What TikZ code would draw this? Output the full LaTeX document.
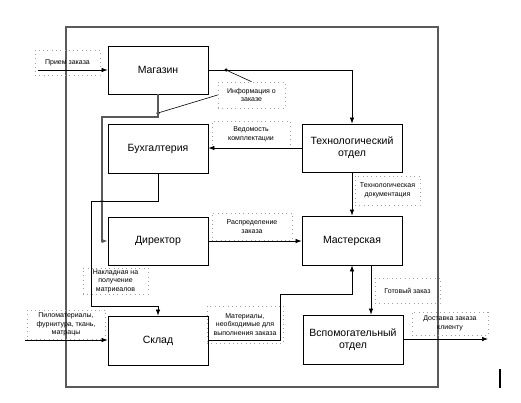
\documentclass[tikz,border=0pt]{standalone}
\usepackage{fontspec}
\setmainfont{Liberation Sans}
\usetikzlibrary{arrows.meta, positioning, calc}
\definecolor{framegray}{RGB}{90, 90, 90}
\definecolor{dotgray}{RGB}{160, 160, 160}

\begin{document}
\begin{tikzpicture}[x=1pt, y=-1pt,
    block/.style={draw, line width=0.8pt, minimum width=100pt, minimum height=48pt,
                  inner sep=2pt, align=center, font=\fontsize{10.5}{12}\selectfont},
    lbl/.style={draw=dotgray, dash pattern=on 0.8pt off 3.5pt, line width=0.7pt, inner sep=1pt,
                align=center, font=\fontsize{7}{8.5}\selectfont},
    arr/.style={-{Latex[length=6pt, width=4.5pt]}, line width=0.7pt},
    jdot/.style={circle, fill, inner sep=0pt, minimum size=3.5pt}]
    \useasboundingbox (0,0) rectangle (521,402);

    % outer frame
    \draw[framegray, line width=1.3pt] (66,27) rectangle (438,387);

    % blocks
    \node[block] (magazin) at (158,70) {Магазин};
    \node[block, minimum height=49pt] (buh) at (158,148.5) {Бухгалтерия};
    \node[block] (dir) at (158,241) {Директор};
    \node[block, minimum height=49pt] (sklad) at (158,340.5) {Склад};
    \node[block] (tech) at (352,148) {Технологический\\отдел};
    \node[block, minimum height=49pt] (master) at (352,240.5) {Мастерская};
    \node[block, minimum height=49pt] (vspom) at (353,339.5) {Вспомогательный\\отдел};

    % labels
    \node[lbl, minimum width=65pt, minimum height=25pt] (lPriem) at (67.5,62.5) {Прием заказа};
    \node[lbl, minimum width=67pt, minimum height=26pt] (lInfo) at (251.5,95) {Информация о\\заказе};
    \node[lbl, minimum width=78pt, minimum height=27pt] (lVed) at (251,134.5) {Ведомость\\комплектации};
    \node[lbl, minimum width=80pt, minimum height=27pt] (lRasp) at (252,226.5) {Распределение\\заказа};
    \node[lbl, minimum width=65pt, minimum height=29pt] (lTechDoc) at (387.5,190.5) {Технологическая\\документация};
    \node[lbl, minimum width=65pt, minimum height=26pt] (lNakl) at (115.5,281) {Накладная на\\получение\\матриеалов};
    \node[lbl, minimum width=76pt, minimum height=37pt] (lMater) at (245,324.5) {Материалы,\\необходимые для\\выполнения заказа};
    \node[lbl, minimum width=65pt, minimum height=25pt] (lGot) at (407.5,290.5) {Готовый заказ};
    \node[lbl, minimum width=76pt, minimum height=23pt] (lDost) at (450,323.5) {Доставка заказа\\клиенту};
    \node[lbl, minimum width=78pt, minimum height=29pt] (lPilo) at (66,324.5) {Пиломатериалы,\\фурнитура, ткань,\\матрацы};

    % free ends and junctions
    \coordinate (inPriem) at (38,70);
    \coordinate (inPilo) at (25,340);
    \coordinate (outDost) at (488,339);
    \node[jdot] (jInfo) at (226,70) {};
    \node[jdot] (jMag) at (158,113) {};
    \node[jdot] (jDir) at (102,201) {};

    % connectors
    \draw[arr] (inPriem) -- (magazin.west |- inPriem);
    \draw[arr] (magazin.east) -| (tech.north);
    \draw[line width=0.6pt] (jInfo.center) -- (lInfo.north);
    \draw[line width=0.6pt] (jMag.center) -- (lInfo.west);
    \draw[arr, framegray, line width=1.1pt] (magazin.south) -- (158,117) -| (102,241) -- (dir.west);
    \draw[arr] (tech.west) -- (buh.east |- tech.west);
    \draw[arr] (buh.south) -- (158,201) -| (91,306) -| (sklad.north);
    \draw[arr] (dir.east) -- (master.west |- dir.east);
    \draw[arr] (tech.south) -- (master.north);
    \draw[arr] (inPilo) -- (sklad.west |- inPilo);
    \draw[arr] (sklad.east |- inPilo) -| (280,294) -| (master.south);
    \draw[arr] ([xshift=19pt]master.south) -- ([xshift=19pt]master.south |- vspom.north);
    \draw[arr] (vspom.east |- outDost) -- (outDost);

    % cursor mark
    \draw[line width=1.5pt] (500,369) -- (500,388);
\end{tikzpicture}
\end{document}
